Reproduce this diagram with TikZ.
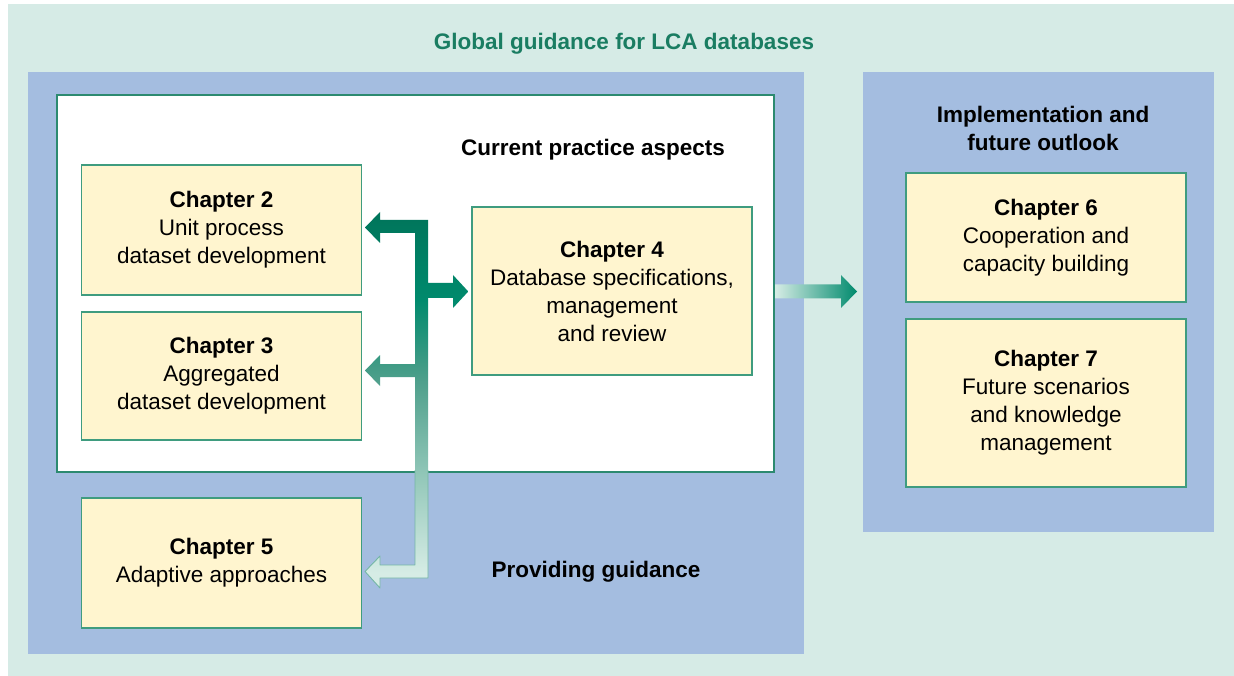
\documentclass[tikz,border=0pt]{standalone}
\usepackage{fontspec}
\setmainfont{Liberation Sans}
\definecolor{outerbg}{HTML}{D6EBE6}
\definecolor{panelblue}{HTML}{A4BDE0}
\definecolor{boxfill}{HTML}{FFF5CF}
\definecolor{boxline}{HTML}{3F9C7F}
\definecolor{frameline}{HTML}{2C8A70}
\definecolor{titlegreen}{HTML}{1A7D62}
\definecolor{arrowdark}{HTML}{00745A}
\definecolor{arrowmid}{HTML}{008A6D}
\definecolor{arrowsoft}{HTML}{4E9F8B}
\definecolor{arrowpale}{HTML}{8EC5B6}
\definecolor{arrowlight}{HTML}{D6ECE5}
\pgfdeclareverticalshading{fadetrunk}{100bp}{
  color(0bp)=(arrowlight); color(25bp)=(arrowlight);
  color(27bp)=(arrowlight); color(40.7bp)=(arrowpale);
  color(52.7bp)=(arrowsoft); color(63.3bp)=(arrowmid);
  color(75bp)=(arrowdark); color(100bp)=(arrowdark)}
\begin{document}
\begin{tikzpicture}[x=1pt, y=-1pt,
		every node/.style={font=\fontsize{22.5}{28}\selectfont},
		chapter/.style={draw=boxline, fill=boxfill, line width=1.5pt,
			minimum width=280pt, align=center, inner sep=0pt},
		heading/.style={font=\fontsize{22.5}{28}\selectfont\bfseries, align=center}
		]
	\useasboundingbox (0,0) rectangle (1234,676);
	% backgrounds
	\fill[outerbg] (8,4) rectangle (1234,676);
	\fill[panelblue] (28,72) rectangle (804,654);
	\fill[panelblue] (863,72) rectangle (1214,532);
	\draw[frameline, line width=2pt, fill=white] (57,95) rectangle (774,472);

	\node [heading, text=titlegreen] (title) at (624,44) {Global guidance for LCA databases};
	\node [heading] (practice) at (593,150) {Current practice aspects};
	\node [heading] (guidance) at (596,572) {Providing guidance};
	\node [heading] (outlook) at (1043,128) {Implementation and\\future outlook};

	% chapter boxes
	\node [chapter, minimum height=130pt] (ch2) at (221.5,230) {\textbf{Chapter 2}\\Unit process\\dataset development};
	\node [chapter, minimum height=128pt] (ch3) at (221.5,376) {\textbf{Chapter 3}\\Aggregated\\dataset development};
	\node [chapter, minimum height=168pt] (ch4) at (612,291) {\textbf{Chapter 4}\\Database specifications,\\management\\and review};
	\node [chapter, minimum height=130pt] (ch5) at (221.5,563) {\textbf{Chapter 5}\\Adaptive approaches};
	\node [chapter, minimum height=129pt] (ch6) at (1046,237.5) {\textbf{Chapter 6}\\Cooperation and\\capacity building};
	\node [chapter, minimum height=168pt] (ch7) at (1046,403) {\textbf{Chapter 7}\\Future scenarios\\and knowledge\\management};

	% branching arrow between the chapters
	\coordinate (t2) at ([xshift=3pt]ch2.east);
	\coordinate (t4) at ([xshift=-3pt]ch4.west);
	\shade[shading=fadetrunk]
		(365,227.5) -- (380,212) -- (380,220) -- (428,220) -- (428,283)
		-- (453,283) -- (453,275) -- (t4 |- 0,291.5) -- (453,308) -- (453,298)
		-- (428,298) -- (428,578) -- (380,578) -- (380,588) -- (365,571.5)
		-- (380,556) -- (380,565) -- (415,565) -- (415,377) -- (380,377)
		-- (380,386) -- (365,370.5) -- (380,355) -- (380,364) -- (415,364)
		-- (415,233) -- (380,233) -- (380,243) -- cycle;
	\draw[arrowpale!60!arrowsoft, line width=0.9pt, line join=round]
		(415,470) -- (415,565) -- (380,565) -- (380,556) -- (365,571.5)
		-- (380,588) -- (380,578) -- (428,578) -- (428,470);

	% arrow towards the outlook panel
	\coordinate (a4) at (775,291.5);
	\coordinate (a6) at (857,291.5);
	\shade[left color=arrowlight, right color=arrowmid]
		([yshift=-7pt]a4) -- ([xshift=-16pt,yshift=-7pt]a6) -- ([xshift=-16pt,yshift=-16.5pt]a6)
		-- (a6) -- ([xshift=-16pt,yshift=16.5pt]a6) -- ([xshift=-16pt,yshift=7pt]a6)
		-- ([yshift=7pt]a4) -- cycle;
\end{tikzpicture}
\end{document}
